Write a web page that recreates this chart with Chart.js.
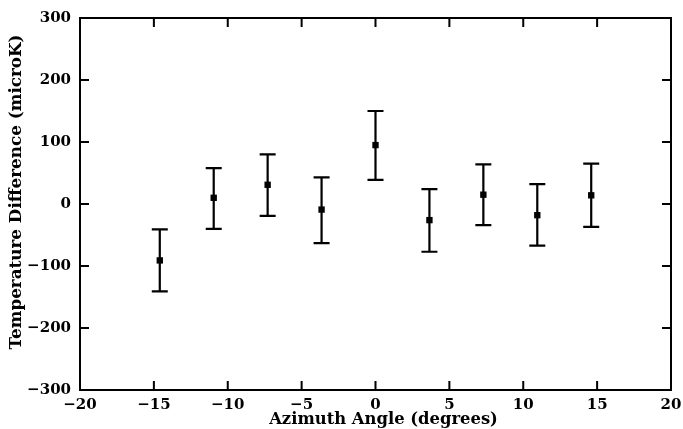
<!DOCTYPE html>
<html>
<head>
<meta charset="utf-8">
<script src="https://cdn.jsdelivr.net/npm/chart.js@4/dist/chart.umd.min.js"></script>
<style>
  html, body { margin: 0; padding: 0; background: #fff; }
</style>
</head>
<body>
<canvas id="chart" width="683" height="429"></canvas>
<script>
// --- Data ---
const azimuth = [-14.6, -10.95, -7.3, -3.65, 0, 3.65, 7.3, 10.95, 14.6];
const tempDiff = [-91, 10, 31, -9, 95, -26, 15, -18, 14];
const errLow = [-141, -40, -19, -63, 39, -77, -34, -67, -37];
const errHigh = [-41, 58, 80, 43, 150, 24, 64, 32, 65];
const xTicks = [-20, -15, -10, -5, 0, 5, 10, 15, 20];
const yTicks = [-300, -200, -100, 0, 100, 200, 300];
const xTitle = 'Azimuth Angle (degrees)';
const yTitle = 'Temperature Difference (microK)';

const fontFamily = '"DejaVu Serif", serif';
const minus = v => String(v).replace('-', '\u2212');

// error bars, frame, inward ticks on all four sides, axis titles
const framePlugin = {
  id: 'frame',
  beforeDatasetsDraw(chart) {
    const { ctx, scales: { x, y } } = chart;
    ctx.save();
    ctx.strokeStyle = '#000';
    ctx.lineWidth = 2.2;
    azimuth.forEach((a, i) => {
      const px = x.getPixelForValue(a);
      const top = y.getPixelForValue(errHigh[i]);
      const bot = y.getPixelForValue(errLow[i]);
      ctx.beginPath();
      ctx.moveTo(px, top); ctx.lineTo(px, bot);
      ctx.moveTo(px - 8, top); ctx.lineTo(px + 8, top);
      ctx.moveTo(px - 8, bot); ctx.lineTo(px + 8, bot);
      ctx.stroke();
    });
    ctx.restore();
  },
  afterDraw(chart) {
    const { ctx, chartArea: a, scales: { x, y } } = chart;
    const len = 9;
    ctx.save();
    ctx.strokeStyle = '#000';
    ctx.lineWidth = 2;
    ctx.strokeRect(a.left, a.top, a.right - a.left, a.bottom - a.top);
    ctx.beginPath();
    xTicks.forEach(t => {
      const px = x.getPixelForValue(t);
      ctx.moveTo(px, a.bottom); ctx.lineTo(px, a.bottom - len);
      ctx.moveTo(px, a.top); ctx.lineTo(px, a.top + len);
    });
    yTicks.forEach(t => {
      const py = y.getPixelForValue(t);
      ctx.moveTo(a.left, py); ctx.lineTo(a.left + len, py);
      ctx.moveTo(a.right, py); ctx.lineTo(a.right - len, py);
    });
    ctx.stroke();

    // axis titles
    ctx.fillStyle = '#000';
    ctx.textAlign = 'center';
    ctx.textBaseline = 'middle';
    ctx.font = 'bold 16.4px ' + fontFamily;
    ctx.fillText(xTitle, (a.left + a.right) / 2 + 8, 420);
    ctx.translate(17, (a.top + a.bottom) / 2 - 12);
    ctx.rotate(-Math.PI / 2);
    ctx.font = 'bold 16.8px ' + fontFamily;
    ctx.fillText(yTitle, 0, 0);
    ctx.restore();
  }
};

new Chart(document.getElementById('chart'), {
  type: 'scatter',
  data: {
    datasets: [{
      data: azimuth.map((a, i) => ({ x: a, y: tempDiff[i] })),
      pointStyle: 'rect',
      pointRadius: 4.5,
      backgroundColor: '#000',
      borderColor: '#000',
      borderWidth: 0
    }]
  },
  options: {
    responsive: false,
    animation: false,
    devicePixelRatio: 1,
    layout: { padding: { top: 18, right: 12, left: 5, bottom: 0 } },
    plugins: { legend: { display: false }, tooltip: { enabled: false } },
    scales: {
      x: {
        type: 'linear',
        min: -20, max: 20,
        afterBuildTicks: s => { s.ticks = xTicks.map(v => ({ value: v })); },
        afterFit: s => { s.height = 39; s.paddingLeft = 0; s.paddingRight = 0; },
        grid: { display: false, drawTicks: false },
        border: { display: false },
        ticks: {
          padding: 6, color: '#000', maxRotation: 0,
          font: { family: fontFamily, size: 15, weight: 'bold' },
          callback: v => minus(v)
        }
      },
      y: {
        type: 'linear',
        min: -300, max: 300,
        afterBuildTicks: s => { s.ticks = yTicks.map(v => ({ value: v })); },
        afterFit: s => { s.width = 75; s.paddingTop = 0; s.paddingBottom = 0; },
        grid: { display: false, drawTicks: false },
        border: { display: false },
        ticks: {
          padding: 9, color: '#000',
          font: { family: fontFamily, size: 15, weight: 'bold' },
          callback: v => minus(v)
        }
      }
    }
  },
  plugins: [framePlugin]
});
</script>
</body>
</html>
